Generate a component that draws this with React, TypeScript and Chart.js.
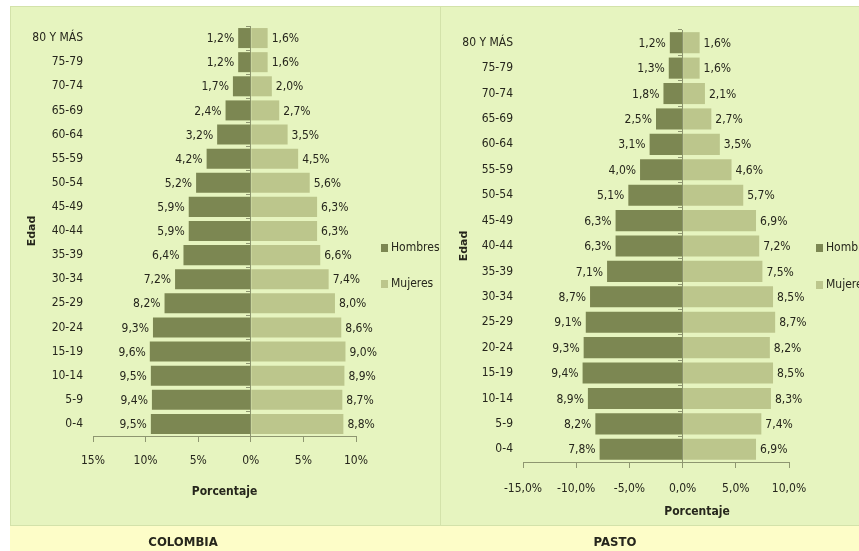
import React, { useEffect, useRef } from 'react';
import { Chart, registerables } from 'chart.js';

Chart.register(...registerables);

// ---------- data ----------
const ageGroups = ['80 Y MÁS', '75-79', '70-74', '65-69', '60-64', '55-59', '50-54', '45-49', '40-44', '35-39', '30-34', '25-29', '20-24', '15-19', '10-14', '5-9', '0-4'];
const colombiaHombres = [1.2, 1.2, 1.7, 2.4, 3.2, 4.2, 5.2, 5.9, 5.9, 6.4, 7.2, 8.2, 9.3, 9.6, 9.5, 9.4, 9.5];
const colombiaMujeres = [1.6, 1.6, 2.0, 2.7, 3.5, 4.5, 5.6, 6.3, 6.3, 6.6, 7.4, 8.0, 8.6, 9.0, 8.9, 8.7, 8.8];
const pastoHombres = [1.2, 1.3, 1.8, 2.5, 3.1, 4.0, 5.1, 6.3, 6.3, 7.1, 8.7, 9.1, 9.3, 9.4, 8.9, 8.2, 7.8];
const pastoMujeres = [1.6, 1.6, 2.1, 2.7, 3.5, 4.6, 5.7, 6.9, 7.2, 7.5, 8.5, 8.7, 8.2, 8.5, 8.3, 7.4, 6.9];
const seriesNames = ['Hombres', 'Mujeres'];
const xMin = -15;
const xMax = 10;
const xStep = 5;

// ---------- style ----------
const FONT = '"Liberation Sans Narrow", "Arial Narrow", "DejaVu Sans Condensed", sans-serif';
const DARK = '#7C8752';
const LIGHT = '#BCC68C';
const GREEN = '#E6F4BF';
const YELLOW = '#FDFDC8';
const AXIS = '#8E9670';
const TEXT = '#26261c';

const fmtColombia = (v: number) => Math.abs(v) + '%';
const fmtPasto = (v: number) => v.toFixed(1).replace('.', ',') + '%';

type Geo = {
  padTop: number;
  padRight: number;
  yWidth: number;
  xHeight: number;
  tickPad: number;
  pctDx: number;
  pctDy: number;
  edadPad: number;
  legendY: number[];
  legendDx: number;
};

function Pyramid(props: {
  hombres: number[];
  mujeres: number[];
  title: string;
  fmt: (v: number) => string;
  geo: Geo;
  width: number;
  height: number;
}) {
  const ref = useRef<HTMLCanvasElement>(null);
  const { hombres, mujeres, title, fmt, geo, width, height } = props;

  useEffect(() => {
    if (!ref.current) return;

    const barLabels = {
      id: 'barLabels',
      afterDatasetsDraw(chart: any) {
        const ctx = chart.ctx;
        ctx.save();
        ctx.font = `12px ${FONT}`;
        ctx.fillStyle = TEXT;
        ctx.textBaseline = 'middle';
        chart.data.datasets.forEach((ds: any, i: number) => {
          const meta = chart.getDatasetMeta(i);
          meta.data.forEach((el: any, j: number) => {
            const raw = ds.data[j] as number;
            const txt = Math.abs(raw).toFixed(1).replace('.', ',') + '%';
            const neg = raw < 0;
            ctx.textAlign = neg ? 'right' : 'left';
            ctx.fillText(txt, el.x + (neg ? -4 : 4), el.y + 1);
          });
        });
        ctx.restore();
      },
    };

    const sideLegend = {
      id: 'sideLegend',
      afterDraw(chart: any) {
        const ctx = chart.ctx;
        const { right } = chart.chartArea;
        ctx.save();
        ctx.font = `12px ${FONT}`;
        ctx.textBaseline = 'middle';
        ctx.textAlign = 'left';
        chart.data.datasets.forEach((ds: any, i: number) => {
          const y = geo.legendY[i];
          const x = right + geo.legendDx;
          ctx.fillStyle = ds.backgroundColor;
          ctx.fillRect(x, y - 4, 7, 8);
          ctx.fillStyle = TEXT;
          ctx.fillText(ds.label, x + 10, y);
        });
        ctx.restore();
      },
    };

    const xTitle = {
      id: 'xTitle',
      afterDraw(chart: any) {
        const ctx = chart.ctx;
        const { left, right, bottom } = chart.chartArea;
        ctx.save();
        ctx.font = `bold 12px ${FONT}`;
        ctx.fillStyle = TEXT;
        ctx.textAlign = 'center';
        ctx.textBaseline = 'middle';
        ctx.fillText('Porcentaje', (left + right) / 2 + geo.pctDx, bottom + geo.pctDy);
        ctx.restore();
      },
    };

    const chart = new Chart(ref.current, {
      type: 'bar',
      data: {
        labels: ageGroups,
        datasets: [
          {
            label: seriesNames[0],
            data: hombres.map((v) => -v),
            backgroundColor: DARK,
            barPercentage: 0.83,
            categoryPercentage: 1,
          },
          {
            label: seriesNames[1],
            data: mujeres,
            backgroundColor: LIGHT,
            barPercentage: 0.83,
            categoryPercentage: 1,
          },
        ],
      },
      options: {
        indexAxis: 'y',
        animation: false,
        responsive: false,
        maintainAspectRatio: false,
        layout: { padding: { top: geo.padTop, right: geo.padRight, left: 0, bottom: 0 } },
        plugins: {
          legend: { display: false },
          tooltip: { enabled: false },
          title: {
            display: true,
            text: title,
            position: 'bottom',
            color: TEXT,
            font: { family: FONT, size: 13, weight: 'bold' },
            padding: { top: 8, bottom: 1 },
          },
        },
        scales: {
          x: {
            type: 'linear',
            min: xMin,
            max: xMax,
            stacked: true,
            ticks: {
              stepSize: xStep,
              callback: (v: any) => fmt(Number(v)),
              font: { family: FONT, size: 12 },
              color: TEXT,
              padding: geo.tickPad,
            },
            grid: { drawOnChartArea: false, drawTicks: true, tickLength: 6, tickColor: AXIS },
            border: { display: true, color: AXIS, width: 1 },
            afterFit: (s: any) => {
              s.height = geo.xHeight;
            },
          },
          y: {
            type: 'category',
            stacked: true,
            position: 'left',
            grid: { display: false, drawTicks: false },
            border: { display: false },
            ticks: { font: { family: FONT, size: 12 }, color: TEXT, padding: 10 },
            title: {
              display: true,
              text: 'Edad',
              color: TEXT,
              font: { family: '"DejaVu Sans"', size: 11, weight: 'bold' },
              padding: { top: geo.edadPad, bottom: 0 },
            },
            afterFit: (s: any) => {
              s.width = geo.yWidth;
            },
          },
          y2: {
            type: 'category',
            position: { x: 0 },
            offset: true,
            z: 1,
            grid: { offset: true, drawOnChartArea: false, drawTicks: true, tickLength: 4, tickColor: AXIS },
            border: { display: true, color: AXIS, width: 1 },
            ticks: { display: false },
          },
        },
      } as any,
      plugins: [barLabels, sideLegend, xTitle],
    });

    return () => chart.destroy();
  }, [hombres, mujeres, title, fmt, geo]);

  return <canvas ref={ref} width={width} height={height} style={{ width, height, display: 'block' }} />;
}

const geoColombia: Geo = {
  padTop: 20,
  padRight: 84,
  yWidth: 83,
  xHeight: 90.4,
  tickPad: 12,
  pctDx: 0,
  pctDy: 56,
  edadPad: 16,
  legendY: [242, 278],
  legendDx: 25,
};

const geoPasto: Geo = {
  padTop: 24,
  padRight: 70,
  yWidth: 82,
  xHeight: 64.4,
  tickPad: 14,
  pctDx: 41,
  pctDy: 50,
  edadPad: 17,
  legendY: [242, 279],
  legendDx: 27,
};

export default function App() {
  return (
    <div style={{ position: 'fixed', left: 0, top: 0, width: 859, height: 551, background: '#ffffff', overflow: 'hidden' }}>
      <div style={{ position: 'absolute', left: 10, top: 6, width: 431, height: 520, background: GREEN, boxSizing: 'border-box', border: '1px solid #D3E2AA' }} />
      <div style={{ position: 'absolute', left: 440, top: 6, width: 420, height: 520, background: GREEN, boxSizing: 'border-box', border: '1px solid #D3E2AA' }} />
      <div style={{ position: 'absolute', left: 10, top: 526, width: 849, height: 25, background: YELLOW }} />
      <div style={{ position: 'absolute', left: 10, top: 6 }}>
        <Pyramid hombres={colombiaHombres} mujeres={colombiaMujeres} title="COLOMBIA" fmt={fmtColombia} geo={geoColombia} width={430} height={545} />
      </div>
      <div style={{ position: 'absolute', left: 441, top: 6 }}>
        <Pyramid hombres={pastoHombres} mujeres={pastoMujeres} title="PASTO" fmt={fmtPasto} geo={geoPasto} width={418} height={545} />
      </div>
    </div>
  );
}
